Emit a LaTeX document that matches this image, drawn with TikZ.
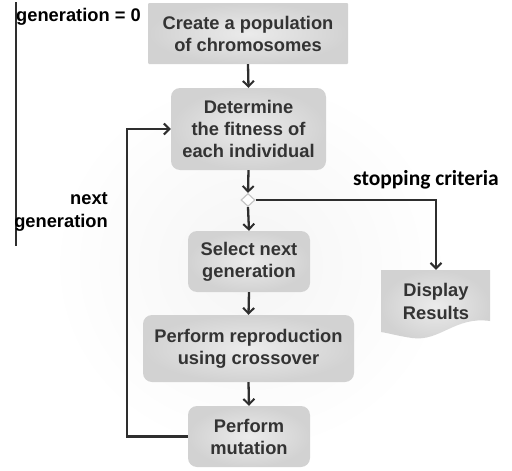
\documentclass[tikz,border=0pt]{standalone}
\usepackage{fontspec}
\setmainfont{Liberation Sans}
\newfontfamily\calibfont{Carlito}
\usetikzlibrary{arrows.meta,shapes.geometric}
\definecolor{ink}{HTML}{2E2E2E}
\definecolor{boxtxt}{HTML}{333333}
\definecolor{boxin}{HTML}{EBEBEB}
\definecolor{boxout}{HTML}{D2D2D2}
\tikzset{
  stepbox/.style={rounded corners=9pt, inner sep=0pt, align=center,
    shading=radial, inner color=boxin, outer color=boxout,
    text=boxtxt, font=\fontsize{18.3}{22}\selectfont\bfseries},
  flow/.style={draw=ink, line width=2.3pt,
    -{Straight Barb[length=5.5pt,width=11pt,line width=2pt]}},
  lbl/.style={inner sep=0pt, text=black, font=\fontsize{18.3}{23}\selectfont\bfseries}
}
\begin{document}
\begin{tikzpicture}[x=1pt,y=-1pt]
  \useasboundingbox (0,0) rectangle (512,471);
  % faint glow behind the chart
  \shade[inner color=gray!8, outer color=white] (250,265) ellipse (200 and 190);

  % left rule
  \draw[ink, line width=2pt] (15.5,2) -- (15.5,246);

  % process boxes
  \node[stepbox, rounded corners=1pt, minimum width=200pt, minimum height=61pt]
    (create) at (248,33.5) {Create a population\\of chromosomes};
  \node[stepbox, minimum width=155pt, minimum height=82pt]
    (fit) at (248.5,129) {Determine\\the fitness of\\each individual};
  \node[draw=gray!45, fill=white, line width=1.2pt, shape=diamond, inner sep=0pt,
    minimum width=14pt, minimum height=13pt] (dec) at (248,200) {};
  \node[stepbox, minimum width=122pt, minimum height=61pt]
    (sel) at (249,261.5) {Select next\\generation};
  \node[stepbox, minimum width=211pt, minimum height=67pt]
    (rep) at (248.5,348.5) {Perform reproduction\\using crossover};
  \node[stepbox, minimum width=122pt, minimum height=61pt]
    (mut) at (249,436.5) {Perform\\mutation};

  % document-shaped output box
  \shade[inner color=boxin, outer color=boxout]
    (381,270) -- (490,270) -- (490,321)
    .. controls (455,316) and (440,342) .. (412,338)
    .. controls (398,336) and (388,333) .. (381,332) -- cycle;
  \node[inner sep=0pt, align=center, minimum width=110pt, minimum height=62pt,
    text=boxtxt, font=\fontsize{18.3}{23}\selectfont\bfseries]
    (disp) at (436,301) {Display\\Results};

  % labels
  \node[lbl, anchor=base west] (gen0) at (16,21) {generation = 0};
  \node[lbl, anchor=east, align=right] (nextgen) at (108,212) {next\\generation};
  \node[inner sep=0pt, anchor=base west, text=black,
    font=\calibfont\fontsize{21.5}{24}\selectfont\bfseries]
    (stop) at (353,185) {stopping criteria};

  % connectors
  \draw[flow] (create.south) -- (fit.north);
  \draw[flow] (fit.south) -- (dec.north);
  \draw[flow] (dec.south) -- (sel.north);
  \draw[flow] (sel.south) -- (rep.north);
  \draw[flow] (rep.south) -- (mut.north);
  \draw[flow] (dec.east) -| (disp.north);
  \draw[flow] (mut.west) -- ++(-61,0) |- (fit.west);
\end{tikzpicture}
\end{document}
